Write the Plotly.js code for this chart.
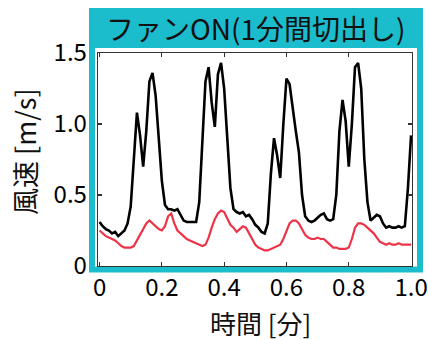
<!DOCTYPE html>
<html>
<head>
<meta charset="utf-8">
<script src="https://cdn.plot.ly/plotly-3.0.1.min.js"></script>
<style>html,body{margin:0;padding:0;background:#fff;}#chart{width:428px;height:340px;}</style>
</head>
<body>
<div id="chart"></div>
<script>
// Time [min]
const time = [0.00,0.01,0.02,0.03,0.04,0.05,0.06,0.07,0.08,0.09,
  0.10,0.11,0.12,0.13,0.14,0.15,0.16,0.17,0.18,0.19,
  0.20,0.21,0.22,0.23,0.24,0.25,0.26,0.27,0.28,0.29,
  0.30,0.31,0.32,0.33,0.34,0.35,0.36,0.37,0.38,0.39,
  0.40,0.41,0.42,0.43,0.44,0.45,0.46,0.47,0.48,0.49,
  0.50,0.51,0.52,0.53,0.54,0.55,0.56,0.57,0.58,0.59,
  0.60,0.61,0.62,0.63,0.64,0.65,0.66,0.67,0.68,0.69,
  0.70,0.71,0.72,0.73,0.74,0.75,0.76,0.77,0.78,0.79,
  0.80,0.81,0.82,0.83,0.84,0.85,0.86,0.87,0.88,0.89,
  0.90,0.91,0.92,0.93,0.94,0.95,0.96,0.97,0.98,0.99,1.00];
// black series: wind speed [m/s]
const speedBlack = [0.31,0.28,0.26,0.25,0.23,0.24,0.21,0.23,0.25,0.30,
  0.42,0.75,1.08,0.92,0.70,0.95,1.30,1.36,1.20,0.90,
  0.60,0.43,0.40,0.40,0.39,0.40,0.36,0.32,0.31,0.31,
  0.31,0.31,0.45,0.85,1.30,1.40,1.15,0.98,1.35,1.43,
  1.25,0.90,0.55,0.40,0.38,0.37,0.38,0.35,0.36,0.33,
  0.29,0.27,0.24,0.23,0.30,0.65,0.90,0.78,0.62,1.00,
  1.32,1.28,1.10,0.95,0.80,0.50,0.35,0.32,0.31,0.32,
  0.34,0.36,0.37,0.33,0.32,0.33,0.50,0.95,1.17,1.02,
  0.70,1.00,1.40,1.43,1.25,0.75,0.45,0.32,0.34,0.36,
  0.35,0.30,0.27,0.28,0.27,0.27,0.28,0.27,0.28,0.55,0.92];
// red series: wind speed [m/s]
const speedRed = [0.25,0.23,0.21,0.20,0.19,0.18,0.16,0.14,0.13,0.13,
  0.13,0.14,0.18,0.22,0.26,0.30,0.32,0.30,0.28,0.26,
  0.25,0.28,0.35,0.37,0.30,0.25,0.23,0.21,0.19,0.18,
  0.17,0.16,0.15,0.14,0.15,0.20,0.27,0.33,0.37,0.39,
  0.38,0.33,0.29,0.27,0.24,0.26,0.28,0.27,0.23,0.19,
  0.15,0.13,0.12,0.11,0.11,0.12,0.13,0.14,0.15,0.19,
  0.25,0.30,0.32,0.32,0.30,0.26,0.22,0.20,0.19,0.19,
  0.20,0.19,0.19,0.17,0.15,0.13,0.13,0.12,0.12,0.12,
  0.13,0.19,0.27,0.30,0.30,0.29,0.27,0.25,0.23,0.20,
  0.17,0.16,0.15,0.16,0.15,0.15,0.16,0.15,0.15,0.15,0.15];
const xTickVals = [0,0.2,0.4,0.6,0.8,1.0];
const xTickText = ['0','0.2','0.4','0.6','0.8','1.0'];
const yTickVals = [0,0.5,1.0,1.5];
const yTickText = ['0','0.5','1.0','1.5'];
const titleText = 'ファンON(1分間切出し)';
const xTitle = '時間 [分]';
const yTitle = '風速 [m/s]';

// layout geometry (pixels)
const W = 428, H = 340;
const L = 98, R = 412, T = 53, B = 266;
const px = x => (x - L) / (R - L);
const py = y => (B - y) / (B - T);
const CYAN = '#1bbccc';
const FONT = '"Noto Sans CJK JP", "Noto Sans", sans-serif';

const traces = [
  {x: time, y: speedBlack, mode: 'lines', line: {color: '#000000', width: 2.6}, hoverinfo: 'skip'},
  {x: time, y: speedRed, mode: 'lines', line: {color: '#ee3347', width: 2.2}, hoverinfo: 'skip'}
];

const axisCommon = {
  showgrid: false, zeroline: false, showline: true, mirror: 'ticks',
  linecolor: '#333333', linewidth: 1.3, ticks: 'inside', ticklen: 4,
  tickcolor: '#333333', tickwidth: 1.2,
  tickfont: {family: FONT, size: 24, color: '#000'}
};

const layout = {
  width: W, height: H,
  margin: {l: L, r: W - R, t: T, b: H - B, pad: 0},
  paper_bgcolor: '#ffffff', plot_bgcolor: '#ffffff',
  showlegend: false,
  xaxis: Object.assign({}, axisCommon, {
    range: [-0.005, 1.003], tickmode: 'array', tickvals: xTickVals, ticktext: xTickText,
    ticklabelstandoff: 0
  }),
  yaxis: Object.assign({}, axisCommon, {
    range: [0, 1.5], tickmode: 'array', tickvals: yTickVals, ticktext: yTickText,
    ticklabelstandoff: 5
  }),
  shapes: [
    {type: 'rect', xref: 'paper', yref: 'paper', layer: 'below',
     x0: px(92), x1: px(420), y0: py(269.5), y1: py(12),
     line: {color: CYAN, width: 6}, fillcolor: 'rgba(0,0,0,0)'},
    {type: 'rect', xref: 'paper', yref: 'paper', layer: 'below',
     x0: px(89), x1: px(423), y0: py(48), y1: py(8),
     line: {width: 0}, fillcolor: CYAN}
  ],
  annotations: [
    {text: titleText, xref: 'paper', yref: 'paper', x: px(256), y: py(28),
     xanchor: 'center', yanchor: 'middle', showarrow: false,
     font: {family: FONT, size: 28, color: '#111'}},
    {text: xTitle, xref: 'paper', yref: 'paper', x: px(260), y: py(322),
     xanchor: 'center', yanchor: 'middle', showarrow: false,
     font: {family: FONT, size: 26, color: '#111'}},
    {text: yTitle, xref: 'paper', yref: 'paper', x: px(24), y: py(152),
     xanchor: 'center', yanchor: 'middle', showarrow: false, textangle: -90,
     font: {family: FONT, size: 27, color: '#111'}}
  ]
};

Plotly.newPlot('chart', traces, layout, {staticPlot: true, displayModeBar: false});
</script>
</body>
</html>
